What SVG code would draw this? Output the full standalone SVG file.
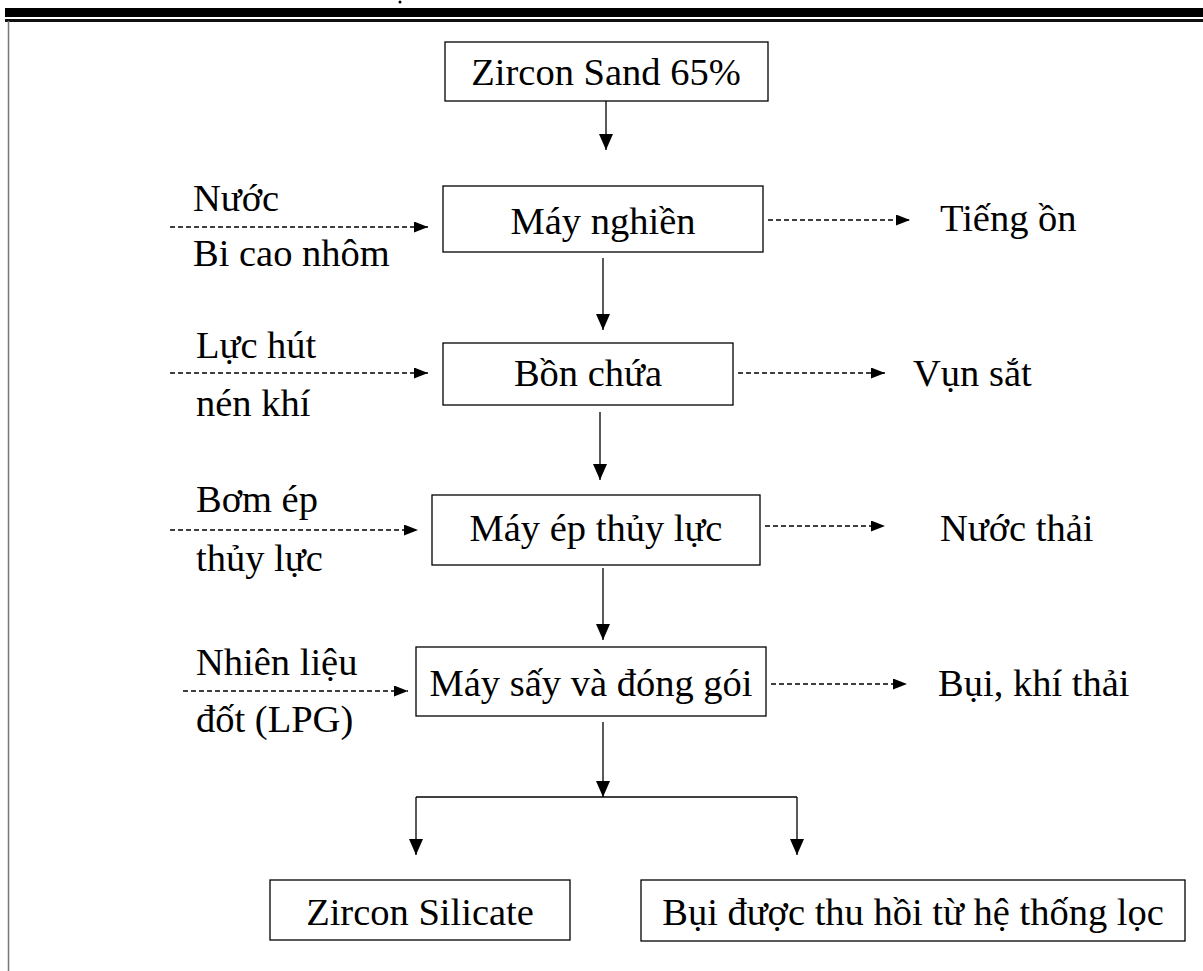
<svg xmlns="http://www.w3.org/2000/svg" width="1203" height="971" viewBox="0 0 1203 971">
<defs>
<marker id="ah" viewBox="0 0 16 14" refX="16" refY="7" markerWidth="16" markerHeight="14" markerUnits="userSpaceOnUse" orient="auto">
<path d="M0,0 L16,7 L0,14 Z" fill="#000"/>
</marker>
<marker id="ahd" viewBox="0 0 14 11" refX="14" refY="5.5" markerWidth="14" markerHeight="11" markerUnits="userSpaceOnUse" orient="auto">
<path d="M0,0 L14,5.5 L0,11 Z" fill="#000"/>
</marker>
</defs>
<style>
.box{fill:#fff;stroke:#000;stroke-width:1.3}
text{font-family:'Liberation Serif','Times New Roman',serif;font-size:38.5px;fill:#000}
.c{text-anchor:middle}
.solid{stroke:#000;stroke-width:1.3;fill:none}
.dash{stroke:#000;stroke-width:1.3;fill:none;stroke-dasharray:5 3}
</style>
<rect width="1203" height="971" fill="#fff"/>
<g id="frame">
<rect x="5" y="8" width="1198" height="9" fill="#000"/>
<rect x="5" y="19" width="1198" height="3" fill="#111"/>
<line x1="8.5" y1="21" x2="8.5" y2="971" stroke="#777" stroke-width="1.5"/>
<circle cx="400" cy="2" r="1.5" fill="#000"/>
</g>
<g id="connectors">
<line class="solid" x1="606" y1="101" x2="606" y2="150" marker-end="url(#ah)"/>
<line class="solid" x1="603" y1="258" x2="603" y2="330" marker-end="url(#ah)"/>
<line class="solid" x1="600" y1="412" x2="600" y2="480" marker-end="url(#ah)"/>
<line class="solid" x1="603" y1="568" x2="603" y2="640" marker-end="url(#ah)"/>
<line class="solid" x1="603" y1="722" x2="603" y2="797" marker-end="url(#ah)"/>
<line class="solid" x1="416" y1="797" x2="797" y2="797"/>
<line class="solid" x1="416" y1="797" x2="416" y2="855" marker-end="url(#ah)"/>
<line class="solid" x1="797" y1="797" x2="797" y2="855" marker-end="url(#ah)"/>
<line class="dash" x1="170" y1="227" x2="428" y2="227" marker-end="url(#ahd)"/>
<line class="dash" x1="768" y1="220" x2="910" y2="220" marker-end="url(#ahd)"/>
<line class="dash" x1="170" y1="373" x2="428" y2="373" marker-end="url(#ahd)"/>
<line class="dash" x1="738" y1="373" x2="885" y2="373" marker-end="url(#ahd)"/>
<line class="dash" x1="170" y1="530" x2="418" y2="530" marker-end="url(#ahd)"/>
<line class="dash" x1="765" y1="526" x2="885" y2="526" marker-end="url(#ahd)"/>
<line class="dash" x1="183" y1="691" x2="408" y2="691" marker-end="url(#ahd)"/>
<line class="dash" x1="771" y1="684" x2="907" y2="684" marker-end="url(#ahd)"/>
</g>
<g id="n-zircon-sand">
<rect class="box" x="445" y="42" width="323" height="59"/>
<text class="c" x="606" y="85">Zircon Sand 65%</text>
</g>
<g id="n-may-nghien">
<rect class="box" x="443" y="186" width="320" height="66"/>
<text class="c" x="603" y="234">Máy nghiền</text>
</g>
<g id="n-bon-chua">
<rect class="box" x="443" y="343" width="290" height="62"/>
<text class="c" x="588" y="386">Bồn chứa</text>
</g>
<g id="n-may-ep">
<rect class="box" x="432" y="495" width="328" height="70"/>
<text class="c" x="596" y="541">Máy ép thủy lực</text>
</g>
<g id="n-may-say">
<rect class="box" x="416" y="647" width="350" height="69"/>
<text class="c" x="591" y="696">Máy sấy và đóng gói</text>
</g>
<g id="n-zircon-silicate">
<rect class="box" x="270" y="880" width="300" height="60"/>
<text class="c" x="420" y="925">Zircon Silicate</text>
</g>
<g id="n-bui-thu-hoi">
<rect class="box" x="641" y="880" width="544" height="61"/>
<text class="c" x="913" y="925">Bụi được thu hồi từ hệ thống lọc</text>
</g>
<g id="inputs">
<text x="193" y="211">Nước</text>
<text x="193" y="266">Bi cao nhôm</text>
<text x="196" y="358">Lực hút</text>
<text x="196" y="416">nén khí</text>
<text x="196" y="512">Bơm ép</text>
<text x="196" y="571">thủy lực</text>
<text x="196" y="675">Nhiên liệu</text>
<text x="196" y="732">đốt (LPG)</text>
</g>
<g id="outputs">
<text x="940" y="231">Tiếng ồn</text>
<text x="913" y="386">Vụn sắt</text>
<text x="940" y="541">Nước thải</text>
<text x="938" y="696">Bụi, khí thải</text>
</g>
</svg>
